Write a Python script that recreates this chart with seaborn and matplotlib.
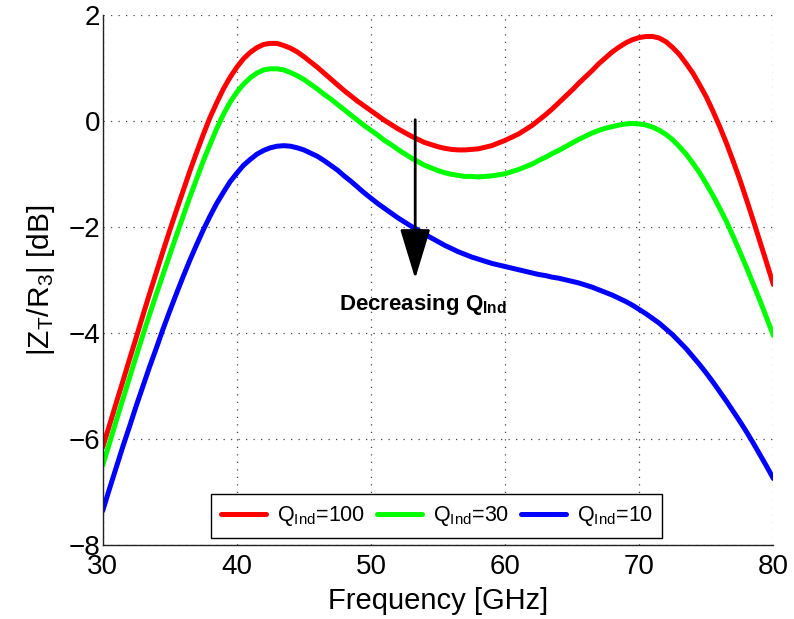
import matplotlib
matplotlib.use("Agg")
import matplotlib.pyplot as plt
import pandas as pd
import seaborn as sns

# Transimpedance magnitude |Z_T/R_3| in dB versus frequency for three inductor Q values,
# sampled every 0.5 GHz from 30 to 80 GHz
freq_ghz = [30 + 0.5 * i for i in range(101)]

q100_db = [-6.15, -5.74, -5.32, -4.91, -4.49, -4.08, -3.66, -3.25, -2.85, -2.45,
           -2.06, -1.68, -1.31, -0.94, -0.59, -0.25, 0.07, 0.35, 0.61, 0.83,
           1.02, 1.18, 1.30, 1.39, 1.45, 1.47, 1.47, 1.43, 1.38, 1.31,
           1.22, 1.12, 1.02, 0.91, 0.80, 0.69, 0.58, 0.48, 0.38, 0.29,
           0.20, 0.11, 0.02, -0.06, -0.14, -0.21, -0.28, -0.34, -0.40, -0.44,
           -0.48, -0.51, -0.53, -0.54, -0.54, -0.53, -0.52, -0.49, -0.46, -0.41,
           -0.36, -0.30, -0.24, -0.16, -0.08, 0.02, 0.12, 0.23, 0.35, 0.47,
           0.59, 0.72, 0.84, 0.96, 1.09, 1.20, 1.31, 1.40, 1.48, 1.54,
           1.58, 1.60, 1.60, 1.57, 1.50, 1.39, 1.26, 1.09, 0.91, 0.69,
           0.46, 0.19, -0.10, -0.41, -0.75, -1.10, -1.48, -1.87, -2.27, -2.67,
           -3.08]

q30_db = [-6.49, -6.08, -5.66, -5.25, -4.84, -4.43, -4.03, -3.64, -3.26, -2.89,
          -2.52, -2.15, -1.79, -1.43, -1.09, -0.75, -0.44, -0.14, 0.13, 0.36,
          0.55, 0.70, 0.82, 0.91, 0.97, 0.99, 0.99, 0.97, 0.92, 0.86,
          0.79, 0.70, 0.61, 0.51, 0.42, 0.32, 0.22, 0.12, 0.02, -0.08,
          -0.17, -0.26, -0.36, -0.44, -0.53, -0.61, -0.69, -0.76, -0.83, -0.88,
          -0.93, -0.97, -1.00, -1.02, -1.04, -1.04, -1.05, -1.04, -1.03, -1.01,
          -0.99, -0.95, -0.91, -0.86, -0.81, -0.74, -0.68, -0.61, -0.55, -0.48,
          -0.41, -0.34, -0.28, -0.22, -0.17, -0.13, -0.10, -0.07, -0.05, -0.04,
          -0.05, -0.07, -0.11, -0.17, -0.25, -0.35, -0.48, -0.62, -0.79, -0.97,
          -1.18, -1.40, -1.64, -1.89, -2.17, -2.46, -2.76, -3.07, -3.38, -3.71,
          -4.04]

q10_db = [-7.35, -6.94, -6.54, -6.14, -5.76, -5.37, -5.00, -4.63, -4.28, -3.92,
          -3.58, -3.25, -2.93, -2.62, -2.33, -2.05, -1.79, -1.55, -1.34, -1.14,
          -0.98, -0.83, -0.72, -0.62, -0.55, -0.50, -0.47, -0.46, -0.47, -0.50,
          -0.54, -0.60, -0.66, -0.74, -0.83, -0.92, -1.03, -1.13, -1.24, -1.35,
          -1.45, -1.55, -1.64, -1.73, -1.82, -1.90, -1.98, -2.05, -2.13, -2.20,
          -2.27, -2.34, -2.40, -2.46, -2.51, -2.56, -2.60, -2.64, -2.68, -2.71,
          -2.74, -2.77, -2.80, -2.83, -2.86, -2.89, -2.91, -2.94, -2.96, -2.99,
          -3.02, -3.05, -3.09, -3.13, -3.18, -3.23, -3.28, -3.34, -3.40, -3.47,
          -3.55, -3.63, -3.72, -3.81, -3.92, -4.03, -4.16, -4.29, -4.44, -4.59,
          -4.75, -4.92, -5.10, -5.28, -5.47, -5.66, -5.86, -6.07, -6.29, -6.51,
          -6.74]

series_labels = [r"Q$_{\mathregular{Ind}}$=100",
                 r"Q$_{\mathregular{Ind}}$=30",
                 r"Q$_{\mathregular{Ind}}$=10"]
series_colors = ["#ff0000", "#00ff00", "#0000ff"]

x_ticks = [30, 40, 50, 60, 70, 80]
y_ticks = [-8, -6, -4, -2, 0, 2]

# Arrow showing the trend with falling Q, and its caption
arrow_freq = 53.3
arrow_from_db = 0.03
arrow_to_db = -2.97
note_freq = 53.9
note_db = -3.45
note_text = r"Decreasing Q$_{\mathregular{Ind}}$"

df = pd.DataFrame({
    "freq": freq_ghz * 3,
    "value": q100_db + q30_db + q10_db,
    "series": [series_labels[0]] * len(freq_ghz)
              + [series_labels[1]] * len(freq_ghz)
              + [series_labels[2]] * len(freq_ghz),
})

sns.set_style("white")
plt.rcParams["font.family"] = ["Liberation Sans", "DejaVu Sans"]
plt.rcParams["mathtext.fontset"] = "custom"
plt.rcParams["mathtext.rm"] = "Liberation Sans"
plt.rcParams["mathtext.it"] = "Liberation Sans:italic"
plt.rcParams["mathtext.bf"] = "Liberation Sans:bold"
for key in ("text.color", "axes.labelcolor", "xtick.color", "ytick.color"):
    plt.rcParams[key] = "black"

fig = plt.figure(figsize=(7.94, 6.19), dpi=100)
ax = fig.add_axes([0.1293, 0.119, 0.8447, 0.8563])

sns.lineplot(data=df, x="freq", y="value", hue="series",
             palette=dict(zip(series_labels, series_colors)),
             linewidth=3.6, ax=ax, legend=False)
for line in ax.get_lines():
    line.set_solid_joinstyle("round")

ax.set_xlim(30, 80)
ax.set_ylim(-8, 2)
ax.set_xticks(x_ticks)
ax.set_yticks(y_ticks)

ax.grid(True, linestyle=(0, (1, 5)), linewidth=0.9, color="#444444")
ax.set_axisbelow(True)
for side in ("top", "right"):
    ax.spines[side].set_visible(False)
for side in ("left", "bottom"):
    ax.spines[side].set_color("#222222")
    ax.spines[side].set_linewidth(1.0)

ax.tick_params(axis="both", direction="in", length=7, width=1,
               labelsize=20, colors="black")
ax.tick_params(axis="x", pad=6)
ax.tick_params(axis="y", pad=2)

ax.set_xlabel("Frequency [GHz]", fontsize=21, labelpad=5)
ax.set_ylabel(r"$\mathregular{|Z_T/R_3|}$ [dB]", fontsize=21.5, labelpad=8)

handles = [plt.Line2D([], [], color=c, linewidth=3.6) for c in series_colors]
leg = ax.legend(handles, series_labels, loc="center",
                bbox_to_anchor=(0.498, 0.055), ncol=3, fontsize=15.5,
                frameon=True, fancybox=False, framealpha=1,
                handlelength=2.1, handletextpad=0.5, columnspacing=0.55,
                borderpad=0.45, edgecolor="black")
leg.get_frame().set_linewidth(1.0)

ax.annotate("", xy=(arrow_freq, arrow_to_db), xytext=(arrow_freq, arrow_from_db),
            arrowprops=dict(arrowstyle="-|>,head_length=1.25,head_width=0.38",
                            mutation_scale=25, color="black", linewidth=2,
                            shrinkA=0, shrinkB=0))
ax.text(note_freq, note_db, note_text, ha="center", va="center",
        fontsize=16, fontweight="bold",
        family=["Liberation Sans Narrow", "Liberation Sans", "DejaVu Sans"])

fig.savefig("out.png", dpi=100, facecolor="white")
